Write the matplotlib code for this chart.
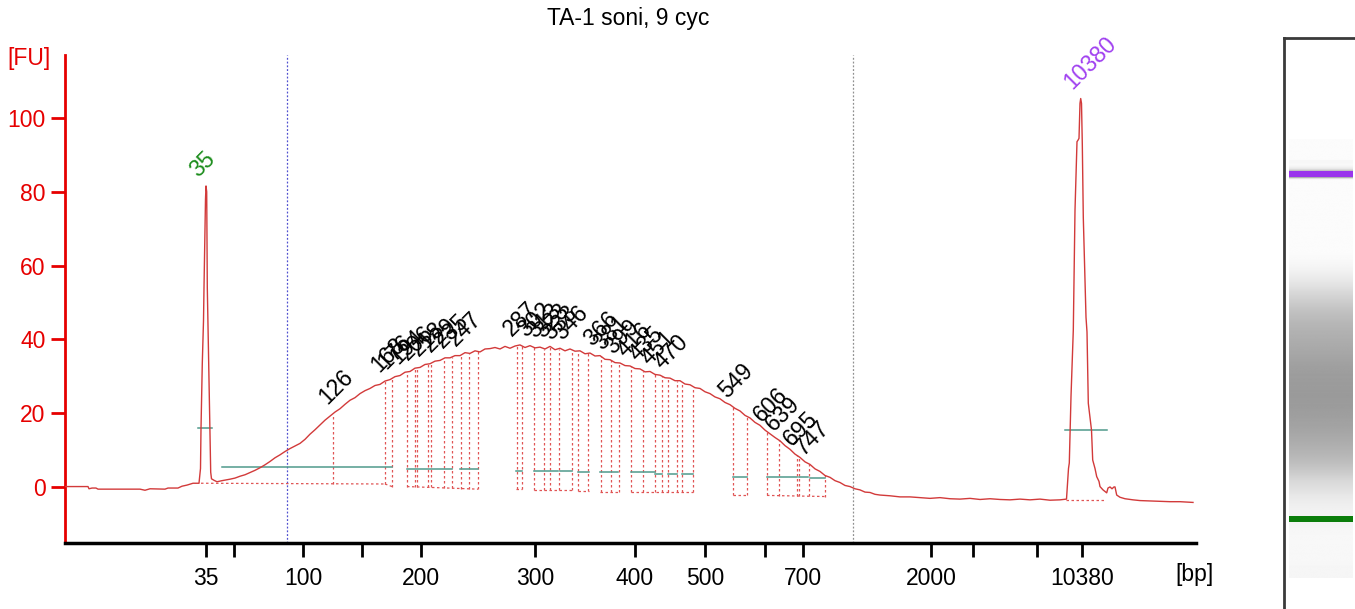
import numpy as np
import matplotlib
matplotlib.use('Agg')
import matplotlib.pyplot as plt

plt.rcParams['font.family'] = ['Liberation Sans', 'DejaVu Sans']

# ---------------- data ----------------
title = 'TA-1 soni, 9 cyc'

# electropherogram trace: migration position (arbitrary units) vs fluorescence [FU]
trace_pos = [65, 88, 89, 92, 96, 98, 120, 140, 145, 150, 165, 168, 178, 182, 187, 193, 199,
             200.5, 201, 202.3, 203.5, 204, 205.5, 206, 206.7, 207.3, 208.7, 210, 210.7, 211.5,
             214, 217, 222, 226, 230, 235, 240, 245, 250, 255, 260, 265, 270, 275, 280, 285, 290,
             295, 300, 305, 310, 315, 320, 325, 330, 335, 340, 345, 350, 355, 360, 365, 370, 375,
             380, 385, 390, 395, 400, 405, 410, 415, 420, 425, 430, 435, 440, 445, 450, 455, 460,
             465, 470, 475, 480, 485, 490, 495, 500, 505, 510, 515, 520, 525, 530, 535, 540, 545,
             550, 555, 560, 565, 570, 575, 580, 585, 590, 595, 600, 605, 610, 615, 620, 625, 630,
             635, 640, 645, 650, 655, 660, 665, 670, 675, 680, 685, 690, 695, 700, 705, 710, 715,
             720, 725, 730, 735, 740, 745, 750, 755, 760, 765, 770, 775, 780, 785, 790, 795, 800,
             805, 810, 815, 820, 825, 830, 835, 840, 845, 850, 855, 860, 865, 870, 875, 880, 890,
             900, 910, 920, 930, 940, 950, 960, 970, 980, 990, 1000, 1010, 1020, 1030, 1040, 1050,
             1060, 1066.5, 1067.5, 1068.5, 1069.3, 1071, 1073.3, 1075, 1077, 1078, 1079, 1080,
             1080.7, 1081.5, 1082.3, 1083.3, 1086, 1087, 1088.3, 1091.5, 1092.7, 1095, 1096.7, 1099,
             1100, 1103, 1106.7, 1108, 1110, 1112, 1114, 1115, 1116.7, 1120, 1125, 1133, 1140,
             1150, 1160, 1170, 1180, 1193]
trace_fu = [0.1, 0.1, -0.5, -0.3, -0.3, -0.6, -0.6, -0.6, -0.9, -0.5, -0.6, -0.3, -0.3, 0.2, 0.5, 1.0, 1.0,
            5.0, 15.8, 33.6, 45.0, 54.0, 78.0, 81.6, 80.0, 54.0, 33.6, 15.8, 4.0, 2.2,
            1.8, 1.4, 1.7, 1.9, 2.1, 2.4, 2.9, 3.3, 3.9, 4.5, 5.2, 6.0, 6.9, 7.9, 8.7, 9.6, 10.4,
            11.1, 11.8, 12.9, 14.3, 15.5, 16.8, 18.1, 19.2, 20.3, 21.2, 22.4, 23.5, 24.2, 25.3, 26.1, 26.7, 27.5,
            27.8, 28.7, 29.1, 29.9, 30.2, 31.1, 31.3, 32.2, 32.4, 33.2, 33.4, 34.1, 34.3, 35.0, 35.0, 35.6, 35.6,
            36.4, 36.2, 36.9, 36.6, 37.4, 37.5, 37.8, 37.4, 38.1, 37.6, 38.2, 38.5, 37.8, 38.3, 37.7, 37.9, 37.4,
            38.1, 37.2, 37.6, 36.9, 37.4, 36.8, 36.9, 36.1, 36.3, 35.5, 35.6, 34.6, 34.5, 33.7, 33.6, 32.9, 32.8,
            32.1, 32.0, 31.2, 31.3, 30.5, 30.3, 29.6, 29.5, 28.8, 28.8, 27.9, 27.7, 26.9, 26.7, 25.8, 25.3, 24.4,
            23.9, 22.9, 22.3, 21.3, 20.6, 19.4, 18.7, 17.5, 16.7, 15.4, 14.4, 13.4, 12.5, 11.2, 10.2, 8.9, 8.0,
            6.8, 6.1, 4.9, 4.2, 3.1, 2.6, 1.7, 1.2, 0.4, 0.1, -0.5, -0.8, -1.4, -1.5, -2.0, -2.2, -2.4,
            -2.7, -2.7, -2.9, -3.1, -2.9, -3.2, -3.3, -3.1, -3.4, -3.2, -3.4, -3.5, -3.3, -3.5, -3.3, -3.6,
            -3.5, -3.3, 1.0, 5.0, 6.5, 24.5, 42.5, 75.0, 93.6, 94.0, 94.5, 104.0,
            105.3, 104.0, 93.0, 73.0, 46.0, 42.0, 22.7, 15.4, 7.3, 5.0, 2.8, 1.5,
            0.1, -0.8, -1.6, -0.3, 0.0, -0.5, 0.0, 0.0, -2.2, -2.8, -3.2, -3.5, -3.7,
            -3.8, -3.9, -4.0, -4.0, -4.2]

# x axis (size scale) ticks
tick_pos = [206, 234, 303, 362, 420.5, 535, 635, 705, 765, 803, 931, 973, 1037, 1082]
tick_lbl = ['35', '', '100', '', '200', '300', '400', '500', '', '700', '2000', '', '', '10380']
y_ticks = [0, 20, 40, 60, 80, 100]

# markers
marker_pos = [206, 1080.7]
marker_lbl = ['35', '10380']
marker_col = ['#1a8c1a', '#a040f0']
marker_band_col = ['#0a7d0a', '#9a35ec']

# labelled peaks of the smear
peak_lbl = ['126', '168', '176', '194', '206', '218', '229', '235', '247', '287', '302', '313',
            '323', '333', '346', '366', '381', '399', '416', '435', '451', '470', '549', '606',
            '639', '695', '747']
peak_pos = [333, 385, 392, 404, 413, 424, 436, 448, 461, 517, 532, 541, 549, 557, 568, 598, 608,
            619, 631, 643, 655, 668, 733, 767, 779, 797, 809]

# peak region borders (dotted verticals)
split_pos = [333, 385, 392, 407, 415, 417, 428, 431, 444, 452, 461, 469, 478, 517, 522, 534, 544,
             550, 559, 572, 578, 588, 601, 611, 619, 631, 643, 655, 662, 668, 677, 682, 693, 733,
             747, 767, 779, 797, 799, 809, 825]
# baseline segments of the regions: start, end, FU at start, FU at end
base_x0 = [201, 385, 407, 516, 534, 578, 600, 631, 733, 767, 1066]
base_x1 = [385, 392, 478, 522, 572, 589, 619, 693, 747, 825, 1106]
base_y0 = [1.0, 0.8, 0.1, -0.5, -0.8, -1.0, -1.3, -1.5, -2.2, -2.3, -3.5]
base_y1 = [0.8, 0.1, -0.6, -0.5, -0.8, -1.0, -1.3, -1.5, -2.2, -2.6, -3.5]

# half-height lines (teal)
half_x0 = [198, 222, 407, 460, 516, 534, 560, 578, 600, 631, 655, 668, 682, 733, 767, 799, 810, 1065]
half_x1 = [211.7, 392, 452, 478, 522, 558, 572, 589, 618, 655, 662, 677, 693, 747, 797, 808, 825, 1106.7]
half_fu = [15.9, 5.5, 4.9, 4.9, 4.4, 4.4, 4.4, 4.0, 4.0, 4.0, 3.5, 3.4, 3.4, 2.8, 2.8, 2.8, 2.3, 15.4]

# analysis window lines
window_pos = [287, 853]
window_col = ['#5050d0', '#909090']

# ---------------- figure ----------------
W, H = 1355, 609
fig = plt.figure(figsize=(W / 100, H / 100), dpi=100)

L, R, T, B = 65, 1196, 55, 543
ax = fig.add_axes([L / W, 1 - B / H, (R - L) / W, (B - T) / H])
ax.set_xlim(65, 1196)
ax.set_ylim(-15.2, 117.1)

red = '#e60000'
tr_col = '#d23a3a'
teal = '#4f9a8c'
fs = 16.5

for x, c in zip(window_pos, window_col):
    ax.axvline(x, color=c, lw=0.9, ls=(0, (1.5, 1.5)), zorder=1)

ax.plot(trace_pos, trace_fu, color=tr_col, lw=1.0, zorder=4)


def base_at(x):
    for a, b, ya, yb in zip(base_x0, base_x1, base_y0, base_y1):
        if a - 0.5 <= x <= b + 0.5:
            return ya + (yb - ya) * (x - a) / (b - a)
    return 0.0


for a, b, ya, yb in zip(base_x0, base_x1, base_y0, base_y1):
    ax.plot([a, b], [ya, yb], color='#e05555', lw=0.9, ls=(0, (2, 2)), zorder=2)
for x in split_pos:
    top = np.interp(x, trace_pos, trace_fu)
    ax.plot([x, x], [base_at(x), top], color='#e05555', lw=0.9, ls=(0, (2, 2)), zorder=2)

for a, b, y in zip(half_x0, half_x1, half_fu):
    ax.plot([a, b], [y, y], color=teal, lw=1.1, zorder=3)

for x, lbl in zip(peak_pos, peak_lbl):
    y = np.interp(x, trace_pos, trace_fu)
    ax.annotate(lbl, (x, y), xytext=(-4, 6), textcoords='offset points', rotation=45,
                rotation_mode='anchor', ha='left', va='baseline', fontsize=fs, color='black',
                zorder=5)
for x, lbl, c in zip(marker_pos, marker_lbl, marker_col):
    y = np.interp(x, trace_pos, trace_fu)
    ax.annotate(lbl, (x, y), xytext=(-6, 6), textcoords='offset points', rotation=45,
                rotation_mode='anchor', ha='left', va='baseline', fontsize=fs, color=c,
                zorder=5)

for s in ['top', 'right']:
    ax.spines[s].set_visible(False)
ax.spines['left'].set_color(red)
ax.spines['left'].set_linewidth(2)
ax.spines['bottom'].set_color('black')
ax.spines['bottom'].set_linewidth(2.5)

ax.set_yticks(y_ticks)
ax.tick_params(axis='y', colors=red, length=10, width=2, labelsize=fs, pad=4)
ax.set_xticks(tick_pos)
ax.set_xticklabels(tick_lbl)
ax.tick_params(axis='x', colors='black', length=10, width=2, labelsize=fs, pad=7)

fig.text(628 / W, 1 - 18 / H, title, ha='center', va='center', fontsize=fs)
fig.text(7 / W, 1 - 58 / H, '[FU]', ha='left', va='center', fontsize=fs, color=red)
fig.text(1175 / W, 1 - 575 / H, '[bp]', ha='left', va='center', fontsize=fs, color='black')

# ---------------- gel lane ----------------
gx0, gy_top, gy_bot = 1284, 38, 615
gax = fig.add_axes([gx0 / W, 1 - gy_bot / H, 76 / W, (gy_bot - gy_top) / H])
# map: marker 35 at pixel 519, marker 10380 at pixel 174
k = (519 - 174) / (marker_pos[1] - marker_pos[0])
gax.set_ylim(marker_pos[0] - (gy_bot - 519) / k, marker_pos[0] + (519 - gy_top) / k)
gax.set_xlim(0, 1)
grid = np.linspace(56, 1169, 1400)
fu = np.interp(grid, trace_pos, trace_fu)
gray = np.clip(246 - 2.4 * fu, 150, 252) / 255.0
gax.imshow(gray[:, None], cmap='gray', vmin=0, vmax=1, aspect='auto', origin='lower',
           extent=[0.066, 0.908, grid[0], grid[-1]], interpolation='bilinear')
for x, c in zip(marker_pos, marker_band_col):
    gax.axhspan(x - 7, x + 7, xmin=0.066, xmax=0.908, color=c, lw=0)
gax.set_xticks([])
gax.set_yticks([])
for s in ['right', 'bottom']:
    gax.spines[s].set_visible(False)
for s in ['left', 'top']:
    gax.spines[s].set_color('#3a3a3a')
    gax.spines[s].set_linewidth(2)

fig.savefig('out.png', dpi=100)
